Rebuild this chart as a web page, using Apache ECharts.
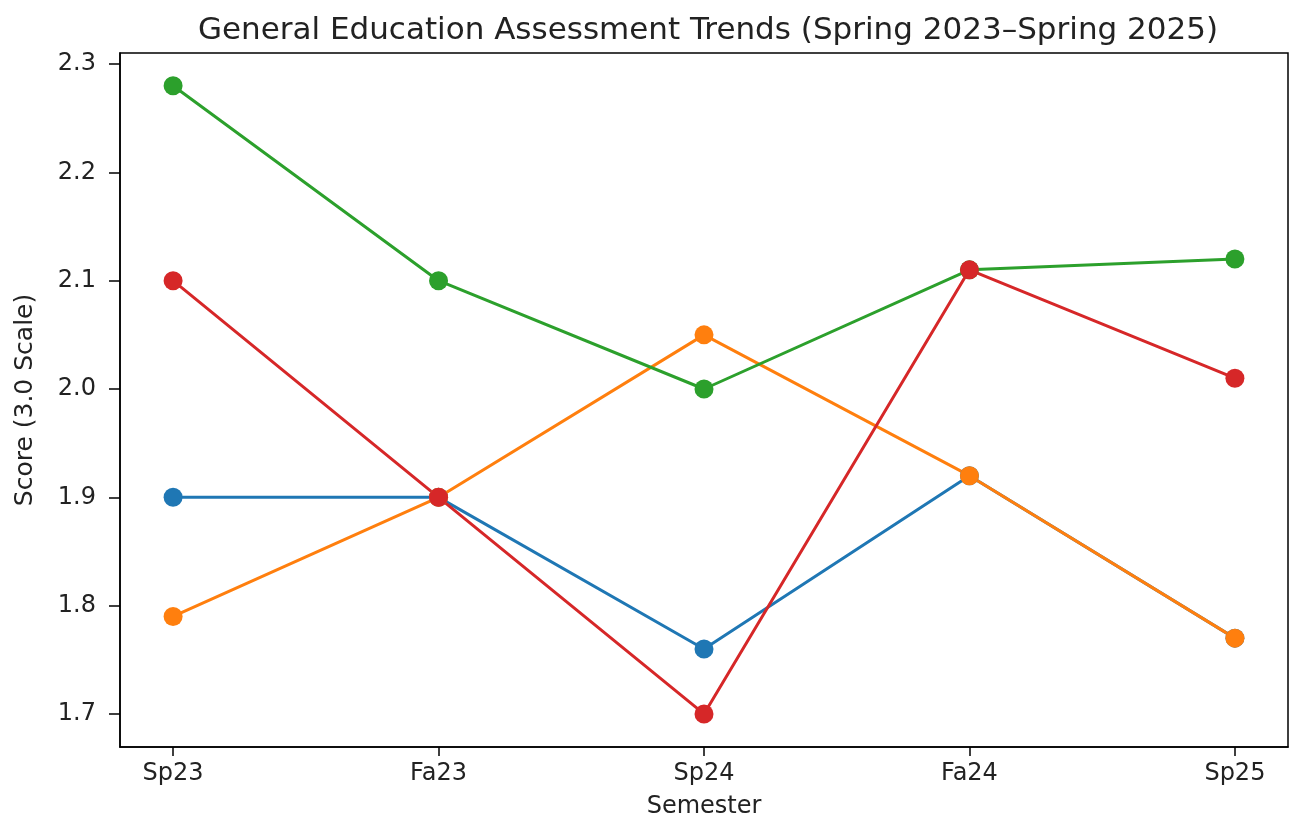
<!DOCTYPE html>
<html>
<head>
<meta charset="utf-8">
<script src="https://cdn.jsdelivr.net/npm/echarts@6/dist/echarts.min.js"></script>
<style>
html, body { margin: 0; padding: 0; background: #fff; }
#chart { width: 1291px; height: 822px; }
</style>
</head>
<body>
<div id="chart"></div>
<script>
// 学期与各项得分
var semesters = ['Sp23', 'Fa23', 'Sp24', 'Fa24', 'Sp25'];
var blueScores = [1.90, 1.90, 1.76, 1.92, 1.77];
var orangeScores = [1.79, 1.90, 2.05, 1.92, 1.77];
var greenScores = [2.28, 2.10, 2.00, 2.11, 2.12];
var redScores = [2.10, 1.90, 1.70, 2.11, 2.01];
var yTicks = [1.7, 1.8, 1.9, 2.0, 2.1, 2.2, 2.3];

var chart = echarts.init(document.getElementById('chart'));

function makeSeries(vals, color) {
	return {
		type: 'line',
		data: vals.map(function (v, i) { return [i, v]; }),
		symbol: 'circle',
		symbolSize: 19,
		lineStyle: { color: color, width: 3 },
		itemStyle: { color: color },
		animation: false
	};
}

var font = 'DejaVu Sans';

chart.setOption({
	backgroundColor: '#fff',
	title: {
		text: 'General Education Assessment Trends (Spring 2023\u2013Spring 2025)',
		left: 703,
		top: 10,
		textAlign: 'center',
		textStyle: { fontFamily: font, fontSize: 31, fontWeight: 'normal', color: '#222' }
	},
	grid: {
		left: 120, right: 3, top: 53, bottom: 75,
		outerBoundsMode: 'none',
		containLabel: false,
		show: true, borderColor: '#000', borderWidth: 1.5
	},
	xAxis: {
		type: 'value',
		min: -0.2,
		max: 4.2,
		name: 'Semester',
		nameLocation: 'middle',
		nameGap: 48,
		nameTextStyle: { fontFamily: font, fontSize: 24, color: '#222' },
		splitLine: { show: false },
		axisLine: { onZero: false, lineStyle: { color: '#000', width: 1.5 } },
		axisTick: { show: true, length: 9, customValues: [0, 1, 2, 3, 4], lineStyle: { color: '#000', width: 1.5 } },
		axisLabel: {
			customValues: [0, 1, 2, 3, 4],
			margin: 15,
			fontFamily: font, fontSize: 24, color: '#222',
			formatter: function (v) { return semesters[Math.round(v)]; }
		}
	},
	yAxis: {
		type: 'value',
		min: 1.6695,
		max: 2.3102,
		name: 'Score (3.0 Scale)',
		nameLocation: 'middle',
		nameGap: 82,
		nameTextStyle: { fontFamily: font, fontSize: 25, color: '#222' },
		splitLine: { show: false },
		axisLine: { show: true, onZero: false, lineStyle: { color: '#000', width: 1.5 } },
		axisTick: { show: true, length: 11, customValues: yTicks, lineStyle: { color: '#000', width: 1.5 } },
		axisLabel: {
			customValues: yTicks,
			margin: 24,
			fontFamily: font, fontSize: 24, color: '#222',
			formatter: function (v) { return v.toFixed(1); }
		}
	},
	series: [
		makeSeries(blueScores, '#1f77b4'),
		makeSeries(orangeScores, '#ff7f0e'),
		makeSeries(greenScores, '#2ca02c'),
		makeSeries(redScores, '#d62728')
	]
});

window.onresize = function () {
	chart.resize();
};
</script>
</body>
</html>
